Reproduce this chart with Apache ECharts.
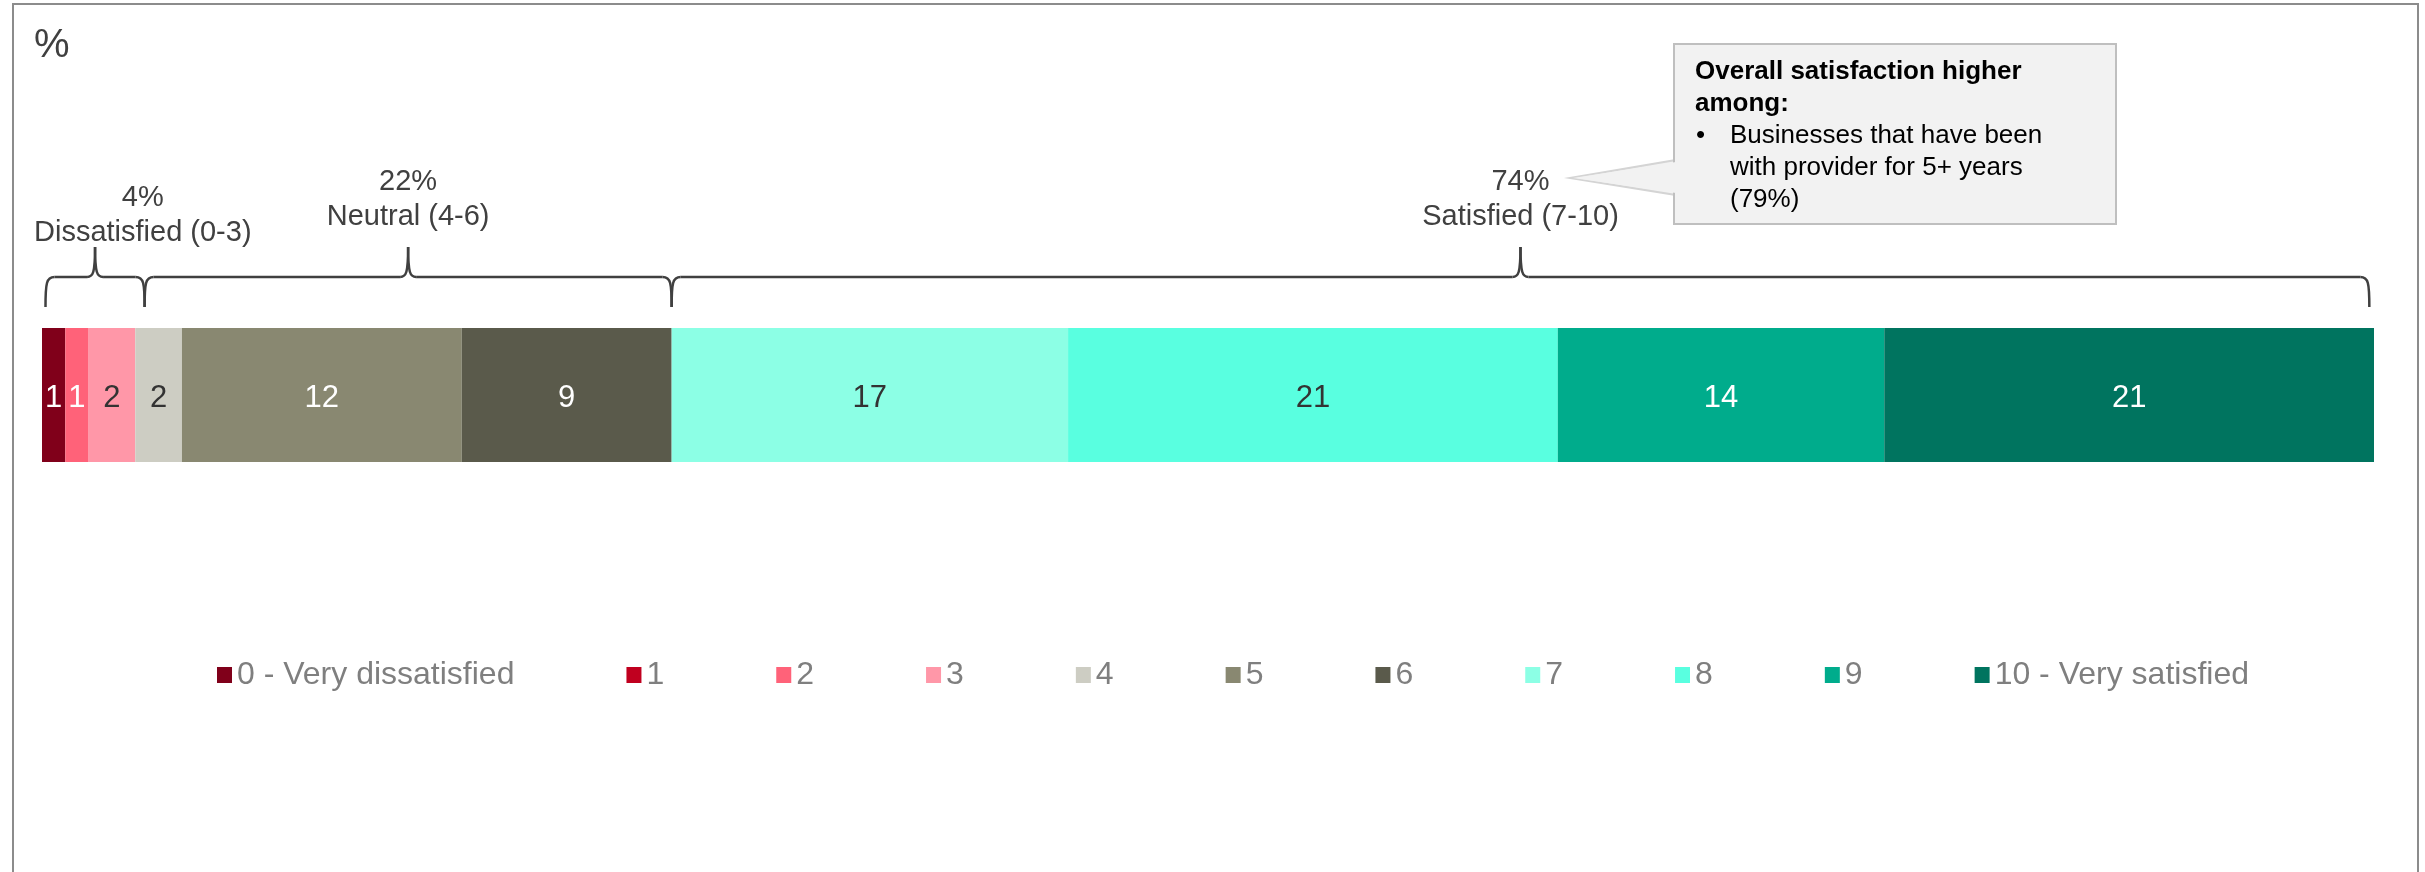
<!DOCTYPE html>
<html>
<head>
<meta charset="utf-8">
<script src="https://cdn.jsdelivr.net/npm/echarts@6/dist/echarts.min.js"></script>
<style>
  html, body { margin: 0; padding: 0; background: #fff; }
  #chart { width: 2425px; height: 872px; }
</style>
</head>
<body>
<div id="chart"></div>
<script>
// data
const categories = ['Overall satisfaction']
const scoreNames = ['0 - Very dissatisfied', '1', '2', '3', '4', '5', '6', '7', '8', '9', '10 - Very satisfied']
const scoreValues = [1, 0, 1, 2, 2, 12, 9, 17, 21, 14, 21]
const groupNames = ['Dissatisfied (0-3)', 'Neutral (4-6)', 'Satisfied (7-10)']
const groupPercents = [4, 22, 74]
const groupRanges = [[0.15, 4.4], [4.4, 27], [27, 99.8]]
const calloutTitle = ['Overall satisfaction higher', 'among:']
const calloutBullet = ['Businesses that have been', 'with provider for 5+ years', '(79%)']

const colors = ['#80001a', '#c0001f', '#ff6279', '#ff97a8', '#cdcdc3', '#898871', '#5a5a4b', '#8cffe5', '#59ffe0', '#00ac8c', '#00745f']
const labelColors = ['#fff', '#fff', '#fff', '#333', '#333', '#fff', '#fff', '#333', '#333', '#fff', '#fff']
const FONT = '"Liberation Sans", Arial, sans-serif'

const chart = echarts.init(document.getElementById('chart'))

const option = {
  animation: false,
  textStyle: { fontFamily: FONT },
  grid: { left: 42, right: 51, top: 328, height: 134 },
  xAxis: { type: 'value', min: 0, max: 100, show: false },
  yAxis: { type: 'category', data: categories, show: false },
  legend: {
    data: scoreNames,
    left: 217,
    top: 655,
    padding: 0,
    icon: 'rect',
    itemWidth: 15,
    itemHeight: 16,
    itemGap: 112,
    textStyle: { fontSize: 32, color: '#7f7f7f', lineHeight: 40, fontFamily: FONT }
  },
  series: scoreNames.map((name, i) => ({
    name: name,
    type: 'bar',
    stack: 'total',
    barWidth: 134,
    data: [scoreValues[i]],
    itemStyle: { color: colors[i] },
    label: {
      show: true,
      position: 'inside',
      offset: [0, 3],
      fontSize: 31,
      fontFamily: FONT,
      color: labelColors[i],
      formatter: p => (p.value ? String(p.value) : '')
    }
  }))
}
chart.setOption(option)

// braces + group labels, placed through the x axis
const ctx = document.createElement('canvas').getContext('2d')
ctx.font = '29px ' + FONT
const yEnd = 307, yMid = 277, yPeak = 247
const braceStyle = { fill: 'none', stroke: '#404040', lineWidth: 2.5 }
const graphics = []

graphics.push({
  type: 'rect', silent: true,
  shape: { x: 13, y: 4, width: 2405, height: 900 },
  style: { fill: 'none', stroke: '#8c8c8c', lineWidth: 2 }
})
graphics.push({
  type: 'text', x: 34, y: 46,
  style: { text: '%', fontSize: 40, fill: '#404040', fontFamily: FONT, verticalAlign: 'middle' }
})

function curve(a, c1, c2, b) {
  return {
    type: 'bezierCurve', silent: true,
    shape: { x1: a[0], y1: a[1], cpx1: c1[0], cpy1: c1[1], cpx2: c2[0], cpy2: c2[1], x2: b[0], y2: b[1] },
    style: braceStyle
  }
}
function seg(a, b) {
  return { type: 'line', silent: true, shape: { x1: a[0], y1: a[1], x2: b[0], y2: b[1] }, style: braceStyle }
}

groupRanges.forEach((r, i) => {
  const x1 = chart.convertToPixel({ xAxisIndex: 0 }, r[0])
  const x2 = chart.convertToPixel({ xAxisIndex: 0 }, r[1])
  const xm = (x1 + x2) / 2
  graphics.push(curve([x1, yEnd], [x1, yMid + 6], [x1 + 1, yMid], [x1 + 9, yMid]))
  graphics.push(seg([x1 + 9, yMid], [xm - 8, yMid]))
  graphics.push(curve([xm - 8, yMid], [xm - 2, yMid], [xm, yMid - 4], [xm, yPeak]))
  graphics.push(curve([xm, yPeak], [xm, yMid - 4], [xm + 2, yMid], [xm + 8, yMid]))
  graphics.push(seg([xm + 8, yMid], [x2 - 9, yMid]))
  graphics.push(curve([x2 - 9, yMid], [x2 - 1, yMid], [x2, yMid + 6], [x2, yEnd]))

  const w = ctx.measureText(groupNames[i]).width
  const cx = Math.max(xm, 34 + w / 2)
  const yTop = i === 0 ? 198 : 182
  graphics.push({
    type: 'text', x: cx, y: yTop,
    style: { text: groupPercents[i] + '%', fontSize: 29, fill: '#404040', fontFamily: FONT, align: 'center', verticalAlign: 'middle' }
  })
  graphics.push({
    type: 'text', x: cx, y: yTop + 35,
    style: { text: groupNames[i], fontSize: 29, fill: '#404040', fontFamily: FONT, align: 'center', verticalAlign: 'middle' }
  })
})

// callout box
graphics.push({
  type: 'polygon', silent: true,
  shape: { points: [[1570, 178], [1676, 160], [1676, 195]] },
  style: { fill: '#f2f2f2', stroke: '#d4d4d4', lineWidth: 2 }
})
graphics.push({
  type: 'rect', silent: true,
  shape: { x: 1674, y: 44, width: 442, height: 180 },
  style: { fill: '#f2f2f2', stroke: '#bfbfbf', lineWidth: 2 }
})
graphics.push({
  type: 'polygon', silent: true,
  shape: { points: [[1573, 178], [1676, 162], [1676, 193]] },
  style: { fill: '#f2f2f2' }
})
calloutTitle.forEach((t, i) => {
  graphics.push({
    type: 'text', x: 1695, y: 72 + i * 32,
    style: { text: t, fontSize: 26, fontWeight: 'bold', fill: '#000', fontFamily: FONT, verticalAlign: 'middle' }
  })
})
graphics.push({
  type: 'text', x: 1696, y: 136,
  style: { text: '•', fontSize: 26, fill: '#000', fontFamily: FONT, verticalAlign: 'middle' }
})
calloutBullet.forEach((t, i) => {
  graphics.push({
    type: 'text', x: 1730, y: 136 + i * 32,
    style: { text: t, fontSize: 26, fill: '#000', fontFamily: FONT, verticalAlign: 'middle' }
  })
})

chart.setOption({ graphic: graphics })
</script>
</body>
</html>
